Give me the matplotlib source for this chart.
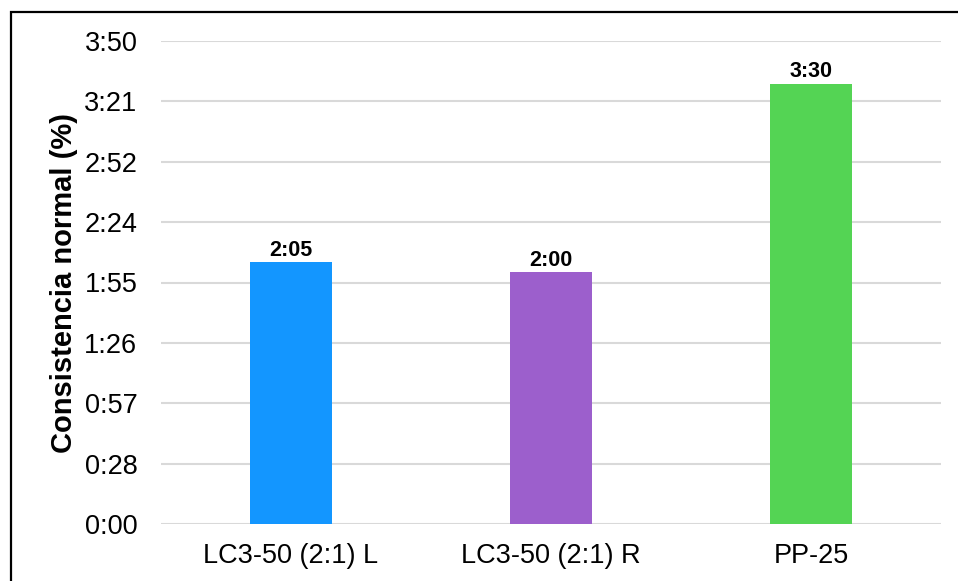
import matplotlib
matplotlib.use("Agg")
import matplotlib.pyplot as plt
from matplotlib.patches import Rectangle
from matplotlib.ticker import FixedLocator, FuncFormatter

plt.rcParams["font.family"] = ["Liberation Sans", "DejaVu Sans"]

# setting time in minutes per mix
mixes = ["LC3-50 (2:1) L", "LC3-50 (2:1) R", "PP-25"]
minutes = [125, 120, 210]
colors = ["#1396FF", "#9C5FCC", "#54D454"]

# axis runs in steps of 0.02 day (28.8 min), as in the spreadsheet
tick_step = 28.8
n_ticks = 9


def hmm(m, _pos=None):
    secs = int(round(m * 60))
    mins = secs // 60
    return f"{mins // 60}:{mins % 60:02d}"


fig = plt.figure(figsize=(9.58, 5.81), dpi=100)
ax = fig.add_axes([161 / 958, 1 - 524 / 581, 780 / 958, 483 / 581])

x = range(len(mixes))
bars = ax.bar(x, minutes, width=0.315, color=colors, zorder=2)
for b, v in zip(bars, minutes):
    ax.annotate(hmm(v), (b.get_x() + b.get_width() / 2, v), xytext=(0, 1),
                textcoords="offset points", ha="center", va="bottom",
                fontsize=15.5, fontweight="bold")

ax.set_xlim(-0.5, len(mixes) - 0.5)
ax.set_ylim(0, tick_step * (n_ticks - 1))
ax.yaxis.set_major_locator(FixedLocator([i * tick_step for i in range(n_ticks)]))
ax.yaxis.set_major_formatter(FuncFormatter(hmm))
ax.set_xticks(list(x))
ax.set_xticklabels(mixes)
ax.tick_params(axis="y", length=0, pad=17, labelsize=19.5)
ax.tick_params(axis="x", length=0, pad=14, labelsize=19.5)
ax.grid(True, axis="y", color="#D9D9D9", linewidth=1.5)
ax.set_axisbelow(True)
for s in ax.spines.values():
    s.set_visible(False)

fig.text(64 / 958, 1 - 283 / 581, "Consistencia normal (%)", rotation=90,
         ha="center", va="center", fontsize=21, fontweight="bold")

# chart frame, runs off the right and bottom edges
top = 1 - 12 / 581
fig.patches.append(Rectangle((11 / 958, -0.2), 1.2, top + 0.2,
                             transform=fig.transFigure, fill=False,
                             edgecolor="black", linewidth=1.6))

fig.savefig("out.png", dpi=100)
